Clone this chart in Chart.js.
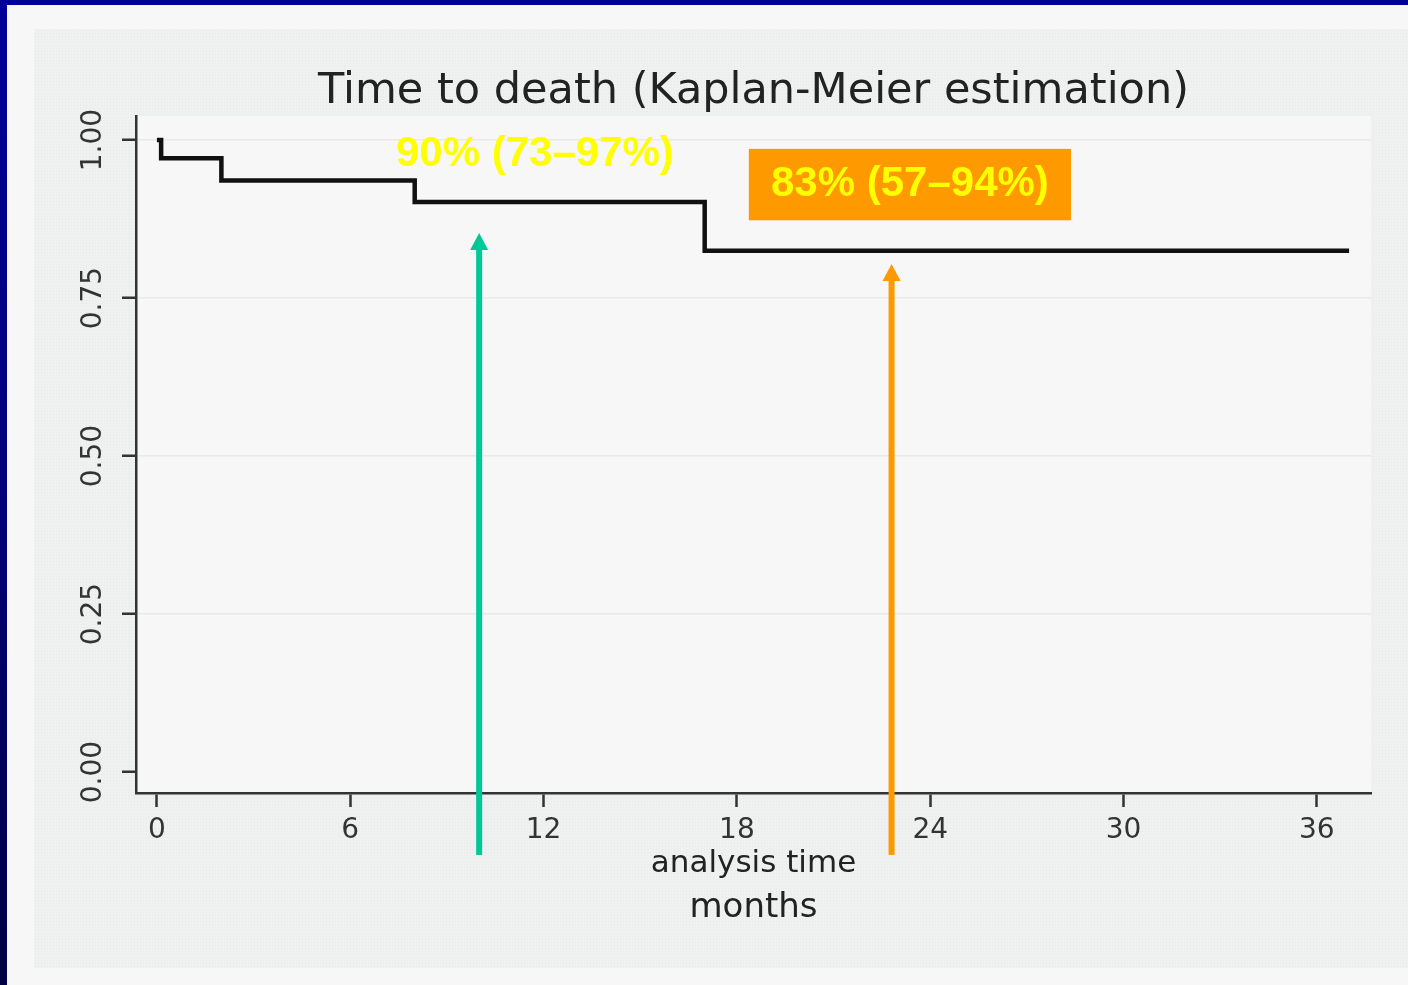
<!DOCTYPE html>
<html>
<head>
<meta charset="utf-8">
<script src="https://cdn.jsdelivr.net/npm/chart.js@4.4.1/dist/chart.umd.min.js"></script>
<style>
  html, body { margin: 0; padding: 0; }
  body { width: 1408px; height: 985px; overflow: hidden; position: relative;
         background: linear-gradient(to bottom, #000099 0%, #00007a 50%, #000044 100%); }
  #outer { position: absolute; left: 7px; top: 5px; right: 0; bottom: 0; background: #f7f7f7; }
  #panel { position: absolute; left: 34px; top: 29px; width: 1374px; height: 939px;
           background-color: #eff0f0;
           background-image: radial-gradient(#e6eaeb 0.8px, transparent 0.9px);
           background-size: 3px 3px; }
  #c { position: absolute; left: 0; top: 0; }
</style>
</head>
<body>
<div id="outer"></div>
<div id="panel"></div>
<canvas id="c" width="1408" height="985"></canvas>
<script>
// ---- data ----
const times = [0, 0.13, 2, 8, 17, 37];
const survival = [1.0, 0.971, 0.936, 0.902, 0.825, 0.825];
const xTicks = [0, 6, 12, 18, 24, 30, 36];
const yTicks = [0, 0.25, 0.5, 0.75, 1.0];
const yTickLabels = ['0.00', '0.25', '0.50', '0.75', '1.00'];
const arrowTimes = [10, 22.8];
const arrowBases = [-0.131, -0.131];
const arrowTips = [0.853, 0.804];
const arrowColors = ['#00c995', '#ff9900'];
const labelTexts = ['90% (73–97%)', '83% (57–94%)'];
const labelTimes = [11.73, 23.37];
const labelValues = [0.978, 0.929];
const boxTimes = [18.37, 28.37];
const boxValues = [0.873, 0.986];

const bgPlugin = {
  id: 'plotBg',
  beforeDraw(chart) {
    const {ctx, chartArea: a} = chart;
    ctx.save();
    ctx.fillStyle = '#f7f7f7';
    ctx.fillRect(a.left, a.top, a.right - a.left, a.bottom - a.top);
    ctx.restore();
  }
};

const annotPlugin = {
  id: 'annot',
  afterDatasetsDraw(chart) {
    const {ctx} = chart;
    const xs = chart.scales.x, ys = chart.scales.y;
    ctx.save();
    // arrows
    arrowTimes.forEach((t, i) => {
      const x = xs.getPixelForValue(t);
      const yb = ys.getPixelForValue(arrowBases[i]);
      const yt = ys.getPixelForValue(arrowTips[i]);
      const headH = 17, headW = 18;
      ctx.fillStyle = arrowColors[i];
      ctx.fillRect(x - 3, yt + headH - 1, 6, yb - (yt + headH - 1));
      ctx.beginPath();
      ctx.moveTo(x, yt);
      ctx.lineTo(x + headW / 2, yt + headH);
      ctx.lineTo(x - headW / 2, yt + headH);
      ctx.closePath();
      ctx.fill();
    });
    // orange box
    const bx1 = xs.getPixelForValue(boxTimes[0]), bx2 = xs.getPixelForValue(boxTimes[1]);
    const by1 = ys.getPixelForValue(boxValues[1]), by2 = ys.getPixelForValue(boxValues[0]);
    ctx.fillStyle = '#ff9900';
    ctx.fillRect(bx1, by1, bx2 - bx1, by2 - by1);
    // labels
    ctx.font = 'bold 42px "Liberation Sans", Arial, sans-serif';
    ctx.textAlign = 'center';
    ctx.textBaseline = 'middle';
    ctx.fillStyle = '#ffff00';
    labelTexts.forEach((s, i) => {
      ctx.fillText(s, xs.getPixelForValue(labelTimes[i]), ys.getPixelForValue(labelValues[i]));
    });
    ctx.restore();
  }
};

const tickFont = {family: 'DejaVu Sans', size: 28};

new Chart(document.getElementById('c'), {
  type: 'line',
  data: {
    datasets: [{
      data: times.map((t, i) => ({x: t, y: survival[i]})),
      borderColor: '#111111',
      borderWidth: 4.5,
      pointRadius: 0,
      stepped: 'before',
      fill: false
    }]
  },
  options: {
    responsive: false,
    animation: false,
    devicePixelRatio: 1,
    layout: {padding: {top: 0, left: 0, right: 37, bottom: 59.8}},
    plugins: {
      legend: {display: false},
      tooltip: {enabled: false},
      title: {
        display: true,
        text: 'Time to death (Kaplan-Meier estimation)',
        fullSize: false,
        color: '#222222',
        font: {family: 'DejaVu Sans', size: 43, weight: 'normal', lineHeight: 1},
        padding: {top: 70.5, bottom: 2.5}
      },
      subtitle: {
        display: true,
        text: 'months',
        position: 'bottom',
        fullSize: false,
        color: '#222222',
        font: {family: 'DejaVu Sans', size: 34, weight: 'normal', lineHeight: 1},
        padding: {top: 14.7, bottom: 0}
      }
    },
    scales: {
      x: {
        type: 'linear',
        min: -0.65,
        max: 37.68,
        afterBuildTicks: s => { s.ticks = xTicks.map(v => ({value: v})); },
        afterFit: s => { s.height = 83.5; },
        ticks: {
          font: tickFont, color: '#333333', padding: 7,
          maxRotation: 0, autoSkip: false,
          callback: v => String(v)
        },
        grid: {drawOnChartArea: false, tickLength: 14, tickColor: '#333333', tickWidth: 2.5},
        border: {color: '#333333', width: 2.5},
        title: {
          display: true, text: 'analysis time', color: '#222222',
          font: {family: 'DejaVu Sans', size: 31, lineHeight: 1},
          padding: {top: 0, bottom: -2.5}
        }
      },
      y: {
        type: 'linear',
        min: -0.033,
        max: 1.038,
        afterBuildTicks: s => { s.ticks = yTicks.map(v => ({value: v})); },
        afterFit: s => { s.width = 136; },
        ticks: {
          font: tickFont, color: '#333333', padding: -2.7,
          minRotation: 90, maxRotation: 90, crossAlign: 'center',
          autoSkip: false,
          callback: (v) => { const i = yTicks.indexOf(v); return i >= 0 ? yTickLabels[i] : ''; }
        },
        grid: {
          drawOnChartArea: true, tickLength: 14, tickColor: '#333333', tickWidth: 2.5,
          color: c => (c.tick && c.tick.value === 0) ? 'rgba(0,0,0,0)' : '#e9e9e9',
          lineWidth: 1.5
        },
        border: {color: '#333333', width: 2.5}
      }
    }
  },
  plugins: [bgPlugin, annotPlugin]
});
</script>
</body>
</html>
